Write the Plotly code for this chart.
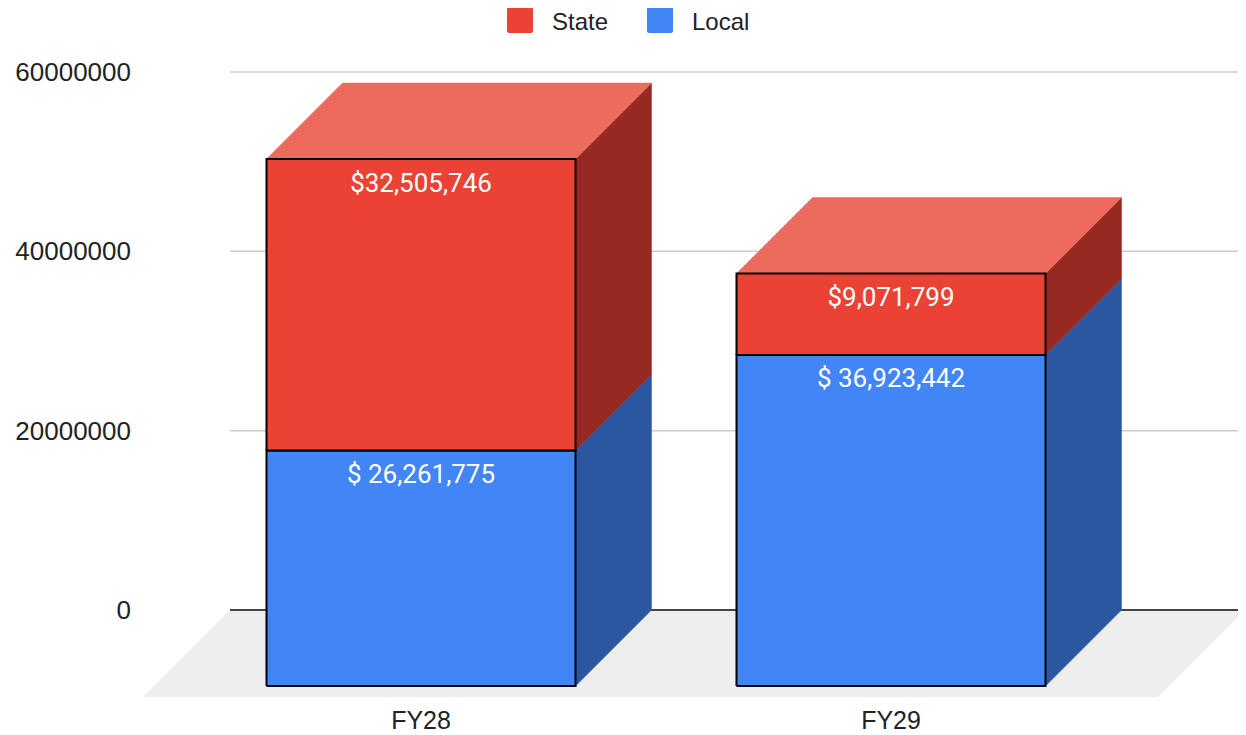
import plotly.graph_objects as go

# ---------------- data ----------------
categories = ["FY28", "FY29"]
series_names = ["State", "Local"]
local_values = [26261775, 36923442]
state_values = [32505746, 9071799]
local_labels = ["$ 26,261,775", "$ 36,923,442"]
state_labels = ["$32,505,746", "$9,071,799"]
y_ticks = [0, 20000000, 40000000, 60000000]

# ---------------- styling / geometry ----------------
OFF = 8                           # page body margin in the browser
W, H = 1246 - OFF, 735 - OFF
ML, MR, MT, MB = 142 - OFF, 1, 45 - OFF, 37
PW, PH = W - ML - MR, H - MT - MB

RED, RED_TOP, RED_SIDE = "#ea4335", "#ed6a5e", "#962a23"
BLUE, BLUE_TOP, BLUE_SIDE = "#4285f4", "#7aa9f7", "#2b56a0"
FLOOR = "#eeeeee"
GRID = "#cccccc"
ZERO = "#444444"
TXT = "#222222"

# pixel scale of the chart (back plane), in figure pixels
Y0_PX, Y60_PX = 610 - OFF, 72 - OFF
px_per_val = (Y0_PX - Y60_PX) / y_ticks[-1]
CAT_PX = 470
CAT0_PX = 421 - OFF
GRID_START_PX = 230 - OFF

y_max = y_ticks[-1] + (Y60_PX - MT) / px_per_val
y_min = y_max - PH / px_per_val
x_min = (ML - CAT0_PX) / CAT_PX
x_max = x_min + PW / CAT_PX

bar_w = 309 / CAT_PX
depth_dx = 76 / CAT_PX
depth_dy = 76 / px_per_val
floor_dx = 87 / CAT_PX
floor_dy = 87 / px_per_val
grid_x0 = (GRID_START_PX - CAT0_PX) / CAT_PX
label_gap = 13 / px_per_val

fig = go.Figure()


def poly(xs, ys, fill, line_color=None, line_w=0):
    fig.add_trace(go.Scatter(
        x=xs + [xs[0]], y=ys + [ys[0]], mode="lines", fill="toself",
        fillcolor=fill,
        line=dict(color=line_color or fill, width=line_w if line_w else 0.5),
        showlegend=False, hoverinfo="skip"))


xs_cat = list(range(len(categories)))
for i, cx in enumerate(xs_cat):
    xl, xr = cx - bar_w / 2, cx + bar_w / 2
    segs = [(0, local_values[i], BLUE, BLUE_SIDE, BLUE_TOP),
            (local_values[i], local_values[i] + state_values[i], RED, RED_SIDE, RED_TOP)]
    for b, t, front, side, top in segs:
        poly([xr, xr + depth_dx, xr + depth_dx, xr],
             [b - depth_dy, b, t, t - depth_dy], side)
    b, t, front, side, top = segs[-1]
    poly([xl, xr, xr + depth_dx, xl + depth_dx],
         [t - depth_dy, t - depth_dy, t, t], top)
    for b, t, front, side, top in segs:
        poly([xl, xr, xr, xl],
             [b - depth_dy, b - depth_dy, t - depth_dy, t - depth_dy],
             front, line_color="#000000", line_w=2)

# data labels
label_font = dict(family="Roboto, Arial, sans-serif", size=26, color="#ffffff")
fig.add_trace(go.Scatter(
    x=xs_cat, y=[v - depth_dy - label_gap for v in local_values],
    mode="text", text=local_labels, textposition="bottom center",
    textfont=label_font, showlegend=False, hoverinfo="skip"))
fig.add_trace(go.Scatter(
    x=xs_cat,
    y=[l + s - depth_dy - label_gap for l, s in zip(local_values, state_values)],
    mode="text", text=state_labels, textposition="bottom center",
    textfont=label_font, showlegend=False, hoverinfo="skip"))

# floor and gridlines
shapes = [dict(type="path", xref="x", yref="y", layer="below",
               path=(f"M {grid_x0},0 L {x_max},0 L {x_max - floor_dx},{-floor_dy} "
                     f"L {grid_x0 - floor_dx},{-floor_dy} Z"),
               fillcolor=FLOOR, line=dict(width=0))]
for t in y_ticks:
    shapes.append(dict(type="line", xref="x", yref="y", layer="below",
                       x0=grid_x0, x1=x_max, y0=t, y1=t,
                       line=dict(color=ZERO if t == 0 else GRID, width=2 if t == 0 else 1.5)))


def px_to_paper_x(px):
    return (px - OFF - ML) / PW


def px_to_paper_y(py):
    return (H - MB - (py - OFF)) / PH


def rounded_square(x0, y0, size, r):
    """Rounded square path in paper coordinates from page-pixel corner."""
    X = px_to_paper_x
    Y = px_to_paper_y
    x1, y1 = x0 + size, y0 + size
    return (f"M {X(x0 + r)},{Y(y0)} L {X(x1 - r)},{Y(y0)} Q {X(x1)},{Y(y0)} {X(x1)},{Y(y0 + r)} "
            f"L {X(x1)},{Y(y1 - r)} Q {X(x1)},{Y(y1)} {X(x1 - r)},{Y(y1)} "
            f"L {X(x0 + r)},{Y(y1)} Q {X(x0)},{Y(y1)} {X(x0)},{Y(y1 - r)} "
            f"L {X(x0)},{Y(y0 + r)} Q {X(x0)},{Y(y0)} {X(x0 + r)},{Y(y0)} Z")


legend_items = [(series_names[0], RED, 507, 551), (series_names[1], BLUE, 647, 691)]
annotations = []
for name, col, sx, tx in legend_items:
    shapes.append(dict(type="path", xref="paper", yref="paper",
                       path=rounded_square(sx, 7, 26, 2.5),
                       fillcolor=col, line=dict(width=0)))
    annotations.append(dict(text=name, xref="paper", yref="paper",
                            x=px_to_paper_x(tx), y=px_to_paper_y(22),
                            xanchor="left", yanchor="middle", showarrow=False,
                            borderpad=0,
                            font=dict(family="Liberation Sans, Arial, sans-serif",
                                      size=24, color=TXT)))

tick_font = dict(family="Liberation Sans, Arial, sans-serif", size=26, color=TXT)
fig.update_layout(
    width=W, height=H,
    margin=dict(l=ML, r=MR, t=MT, b=MB, pad=0, autoexpand=False),
    paper_bgcolor="#ffffff", plot_bgcolor="#ffffff",
    showlegend=False,
    shapes=shapes, annotations=annotations,
    xaxis=dict(range=[x_min, x_max], tickvals=xs_cat, ticktext=categories,
               showgrid=False, zeroline=False, showline=False, ticks="",
               automargin=False, ticklabelstandoff=5,
               tickfont=dict(family="Liberation Sans, Arial, sans-serif", size=25, color=TXT)),
    yaxis=dict(range=[y_min, y_max], tickvals=y_ticks,
               ticktext=[str(t) for t in y_ticks],
               showgrid=False, zeroline=False, showline=False, ticks="",
               automargin=False, ticklabelstandoff=10,
               tickfont=tick_font),
)

fig.write_html("out.html")
